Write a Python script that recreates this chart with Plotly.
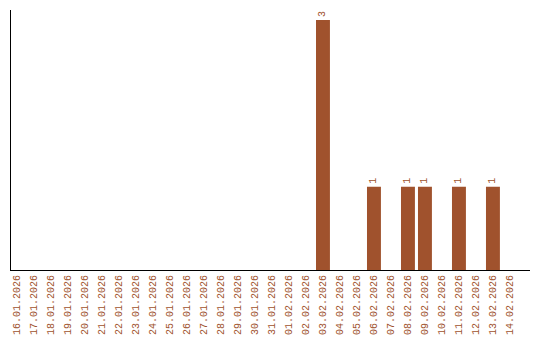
import plotly.graph_objects as go

dates = ["16.01.2026", "17.01.2026", "18.01.2026", "19.01.2026", "20.01.2026",
         "21.01.2026", "22.01.2026", "23.01.2026", "24.01.2026", "25.01.2026",
         "26.01.2026", "27.01.2026", "28.01.2026", "29.01.2026", "30.01.2026",
         "31.01.2026", "01.02.2026", "02.02.2026", "03.02.2026", "04.02.2026",
         "05.02.2026", "06.02.2026", "07.02.2026", "08.02.2026", "09.02.2026",
         "10.02.2026", "11.02.2026", "12.02.2026", "13.02.2026", "14.02.2026"]
counts = [0, 0, 0, 0, 0, 0, 0, 0, 0, 0, 0, 0, 0, 0, 0,
          0, 0, 0, 3, 0, 0, 1, 0, 1, 1, 0, 1, 0, 1, 0]

color = "#A0522D"
font = "Liberation Mono"
xs = list(range(len(dates)))
labels = [str(c) if c > 0 else "" for c in counts]

fig = go.Figure(go.Bar(
    x=xs, y=counts, width=0.82,
    marker=dict(color=color, line=dict(width=0)),
    text=labels, textposition="outside", textangle=-90,
    textfont=dict(family=font, size=10, color=color),
    cliponaxis=False,
))
fig.update_layout(
    width=540, height=340,
    margin=dict(l=11, r=10, t=10, b=70),
    paper_bgcolor="white", plot_bgcolor="white",
    showlegend=False,
    xaxis=dict(
        range=[-0.353, 30.18], tickmode="array", tickvals=xs, ticktext=dates,
        tickangle=-90, tickfont=dict(family=font, size=10, color=color),
        showgrid=False, zeroline=False, showline=True, linecolor="black",
        linewidth=1, ticks="", automargin=False,
    ),
    yaxis=dict(
        range=[0, 3.12], showticklabels=False, showgrid=False, zeroline=False,
        showline=True, linecolor="black", linewidth=1, ticks="", automargin=False,
    ),
)
fig.write_html("out.html")
